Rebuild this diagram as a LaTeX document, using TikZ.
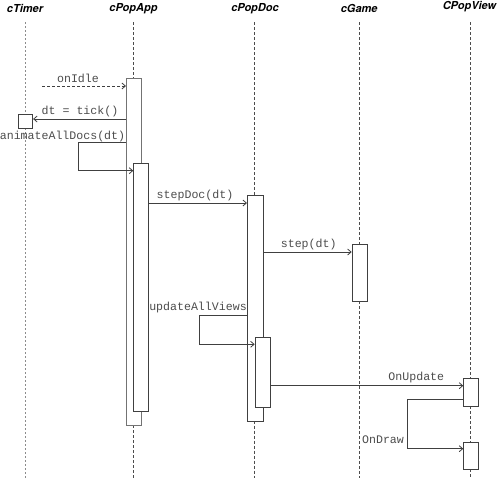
\documentclass[tikz,border=0pt]{standalone}
\usepackage{fontspec}
\newfontfamily\titlefont{TeX Gyre Heros}
\newfontfamily\msgfont{Liberation Mono}
\usetikzlibrary{arrows.meta}
\begin{document}
\begin{tikzpicture}[x=1pt,y=-1pt,
  title/.style={font=\titlefont\bfseries\itshape\fontsize{11}{12}\selectfont, inner sep=0pt},
  msg/.style={font=\msgfont\fontsize{11.6}{13}\selectfont, text=black!70, inner sep=0pt},
  life/.style={draw=black!70, dash pattern=on 3pt off 2pt, line width=0.8pt},
  tlife/.style={draw=black!45, dash pattern=on 2pt off 2pt, line width=1pt},
  act/.style={draw=black!75, fill=white, line width=0.8pt, inner sep=0pt, anchor=north west},
  grayact/.style={act, draw=black!55},
  call/.style={draw=black!75, line width=0.8pt, -{Straight Barb[length=3.5pt,width=6pt]}},
  ret/.style={call, dash pattern=on 3pt off 2pt}
]
\path[use as bounding box] (0,0) rectangle (498,480);

% titles
\node[title] (tTimer) at (25,8.5) {cTimer};
\node[title] (tApp) at (133.5,8.5) {cPopApp};
\node[title] (tDoc) at (255,8.5) {cPopDoc};
\node[title] (tGame) at (359.2,8.8) {cGame};
\node[title] (tView) at (469.5,6.8) {CPopView};

% lifeline tops and bottoms
\coordinate (timerTop) at (25,22);
\coordinate (timerBot) at (25,478);
\coordinate (appTop) at (133.5,22);
\coordinate (appBot) at (133.5,478);
\coordinate (docTop) at (254.8,22);
\coordinate (docBot) at (254.8,478);
\coordinate (gameTop) at (359.2,22);
\coordinate (gameBot) at (359.2,478);
\coordinate (viewTop) at (470.8,22);
\coordinate (viewBot) at (470.8,478);

% activation boxes (positions)
\path
  (17.7,113.7) coordinate (pTimer)
  (126,78) coordinate (pApp1)
  (133.3,163.3) coordinate (pApp2)
  (247,195.3) coordinate (pDoc1)
  (254.7,336.7) coordinate (pDoc2)
  (351.7,244.3) coordinate (pGame)
  (463.3,378.3) coordinate (pView1)
  (463.3,441.7) coordinate (pView2);

% lifelines
\draw[tlife] (timerTop) -- (25,113.7);
\draw[tlife] (25,128.3) -- (timerBot);
\draw[life] (appTop) -- (133.5,78);
\draw[life] (133.5,425) -- (appBot);
\draw[life] (docTop) -- (254.8,195.3);
\draw[life] (254.8,420.7) -- (docBot);
\draw[life] (gameTop) -- (359.2,244.3);
\draw[life] (359.2,301) -- (gameBot);
\draw[life] (viewTop) -- (470.8,378.3);
\draw[life] (470.8,406.3) -- (470.8,441.7);
\draw[life] (470.8,469.3) -- (viewBot);

% boxes
\node[act, minimum width=14.6pt, minimum height=14.6pt] (timer) at (pTimer) {};
\node[grayact, minimum width=15pt, minimum height=347pt] (app1) at (pApp1) {};
\node[act, minimum width=15pt, minimum height=247.7pt] (app2) at (pApp2) {};
\node[act, minimum width=15.7pt, minimum height=225.4pt] (doc1) at (pDoc1) {};
\node[act, minimum width=15.6pt, minimum height=70.6pt] (doc2) at (pDoc2) {};
\node[act, minimum width=15pt, minimum height=56.7pt] (game) at (pGame) {};
\node[act, minimum width=15pt, minimum height=28pt] (view1) at (pView1) {};
\node[act, minimum width=15pt, minimum height=27.6pt] (view2) at (pView2) {};

% messages
\coordinate (idleStart) at (42,86);
\draw[ret] (idleStart) -- (app1.west |- idleStart);
\node[msg] (lIdle) at (78,78) {onIdle};

\draw[call] (app1.west |- 0,119) -- (timer.east |- 0,119);
\node[msg] (lTick) at (80,111.7) {dt = tick()};

\node[msg] (lAnim) at (62.5,136) {animateAllDocs(dt)};
\draw[call] (app1.west |- 0,142) -- (78,142) -- (78,170.7) -- (app2.west |- 0,170.7);

\draw[call] (app2.east |- 0,203) -- (doc1.west |- 0,203);
\node[msg] (lStepDoc) at (195,195) {stepDoc(dt)};

\draw[call] (doc1.east |- 0,252) -- (game.west |- 0,252);
\node[msg] (lStep) at (308.7,244) {step(dt)};

\node[msg] (lUpd) at (198,307.7) {updateAllViews};
\draw[call] (doc1.west |- 0,315.7) -- (199,315.7) -- (199,344.3) -- (doc2.west |- 0,344.3);

\draw[call] (doc2.east |- 0,385.7) -- (view1.west |- 0,385.7);
\node[msg] (lOnUpd) at (416.3,377.7) {OnUpdate};

\draw[call] (view1.west |- 0,399.3) -- (407.7,399.3) -- (407.7,448.7) -- (view2.west |- 0,448.7);
\node[msg] (lOnDraw) at (383,439.3) {OnDraw};
\end{tikzpicture}
\end{document}
